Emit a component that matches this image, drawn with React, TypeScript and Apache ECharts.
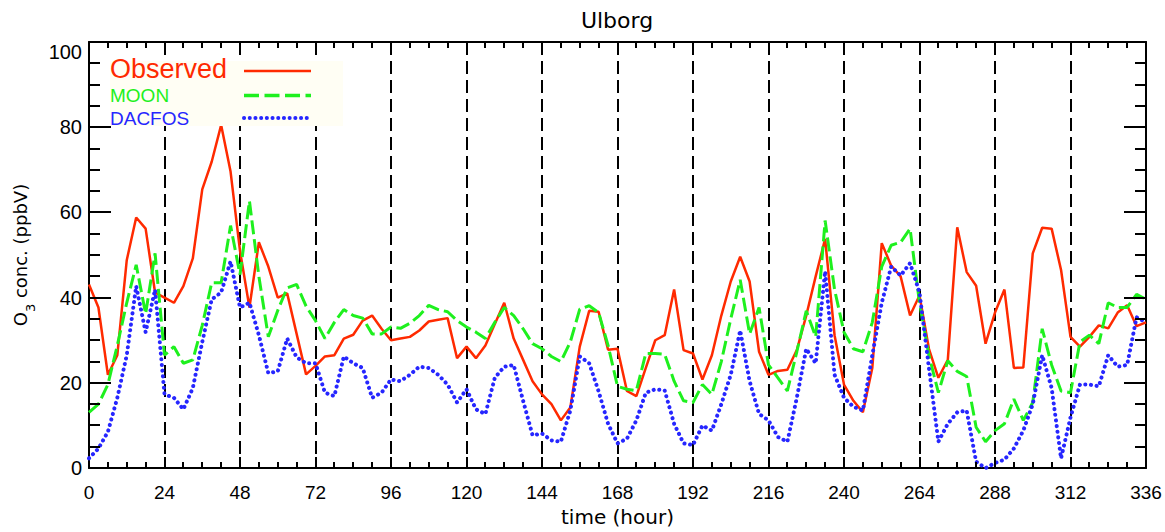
import { useEffect, useRef } from "react";
import * as echarts from "echarts";

// time axis (hours), one value every 3 hours
const HOURS: number[] = Array.from({ length: 113 }, (_, i) => i * 3);

// O3 concentration (ppbV)
const observed: number[] = [
  43.1, 37.7, 21.9, 26.5, 48.8, 58.8, 56.2, 41.2,
  40, 38.8, 42.7, 49.2, 65.4, 71.9, 80.5, 69.6,
  51, 37.7, 53, 47.3, 40, 41, 31.5, 22,
  24, 26.2, 26.5, 30.4, 31.3, 34.6, 35.8, 32.7,
  30, 30.4, 30.8, 32.3, 34.4, 34.8, 35.2, 25.8,
  28.5, 25.8, 28.8, 33.8, 38.8, 30.4, 25.4, 20.4,
  17.3, 15, 11.2, 14.2, 28.5, 36.9, 36.7, 27.8,
  28, 18.1, 16.9, 23.5, 30, 31.2, 41.9, 27.7,
  26.9, 20.8, 26.5, 35.8, 43.8, 49.6, 43.8, 27.3,
  21.9, 22.8, 23.1, 27.7, 35.8, 45, 53.8, 31.2,
  19.6, 15.8, 13.1, 23.5, 52.8, 47.5, 45, 35.8,
  40.5, 28, 21.2, 25.4, 56.5, 46, 42.8, 29.2,
  36.5, 41.9, 23.5, 23.6, 50.4, 56.4, 56.2, 46.5,
  30.8, 28.5, 30.8, 33.5, 32.8, 36.5, 38.2, 33.3,
  34.2,
];

const moon: number[] = [
  13.1, 15, 19.6, 28.8, 38.8, 47.7, 36.2, 50.4,
  26.5, 28.5, 24.6, 25.4, 33.5, 43.5, 43.5, 56.9,
  45.4, 62.7, 45, 30.8, 37, 42.3, 43.1, 38,
  34.6, 30.4, 34.2, 37.2, 35.8, 35.2, 31.5, 31.5,
  33.1, 32.8, 34, 35.8, 38.2, 37.2, 36.7, 34.6,
  33.1, 31.9, 30.4, 34.2, 37.7, 35.8, 32.7, 29.2,
  28, 26.2, 25, 29.6, 37.3, 38.1, 36.5, 28.8,
  19.2, 18.5, 18.2, 26.9, 26.9, 26.7, 20.4, 15.8,
  15.4, 19.6, 17.3, 25, 35, 44.2, 31.5, 37.7,
  24.2, 21.2, 18.1, 27.3, 36.9, 30.8, 58.1, 41.9,
  31.9, 28, 27.3, 34.2, 47.3, 52.3, 53, 56.2,
  38.8, 26.5, 17.7, 25.2, 22.7, 21.5, 9.6, 6.2,
  8.8, 10.4, 16.2, 11.2, 15.4, 32.7, 24.2, 18.1,
  17.7, 29.6, 31.2, 29.2, 38.8, 37.7, 37.7, 40.8,
  39.6,
];

const dacfos: number[] = [
  2.3, 4.6, 8.5, 16.5, 26.5, 42.7, 31.9, 41.9,
  17.3, 16.5, 13.8, 18.8, 29.6, 39.6, 41.2, 48.5,
  37.7, 38.8, 31.2, 22.3, 22.7, 30.4, 26, 24.6,
  24.6, 17.7, 16.9, 26.2, 24.6, 23.5, 16.5, 17.7,
  20.8, 20.4, 21.9, 23.8, 23.5, 21.9, 19.6, 15.4,
  18.5, 13.8, 12.7, 21.2, 23.8, 24.2, 15.8, 7.7,
  8.1, 6.5, 6.2, 13.5, 26.2, 24.6, 18, 10.4,
  5.8, 6.9, 11.2, 17.7, 18.5, 18.2, 10.4, 5.8,
  5.4, 10, 8.8, 15, 21.9, 32.3, 20.4, 12.7,
  11.2, 7.3, 6.2, 16.5, 28, 24.6, 46.2, 21.9,
  16.5, 14.4, 13.5, 26.5, 38.8, 47.3, 45.2, 48.1,
  41.2, 23.5, 6.2, 10.4, 13.1, 13.5, 1.5, 0,
  1.2, 2, 4.6, 8.8, 15, 26.5, 18.8, 2.3,
  11.9, 19.6, 19.6, 19.2, 26.5, 23.8, 24.2, 35.4,
  34.2,
];

const SERIES_NAMES = ["Observed", "MOON", "DACFOS"];
const X_MIN = 0;
const X_MAX = 336;
const X_STEP = 24;
const X_MINOR_STEP = 6;
const Y_MIN = 0;
const Y_MAX = 100;
const Y_STEP = 20;
const Y_MINOR_STEP = 5;

const RED = "#ff2a00";
const GREEN = "#1ef01e";
const BLUE = "#2626ff";
const NUM_FONT = "'Liberation Sans', Arial, Helvetica, sans-serif";
const TXT_FONT = "'DejaVu Sans', Verdana, sans-serif";

export default function App() {
  const ref = useRef<HTMLDivElement>(null);

  useEffect(() => {
    if (!ref.current) return;
    const chart = echarts.init(ref.current, undefined, { renderer: "svg" });

    const axisLine = { show: true, onZero: false, lineStyle: { color: "#000", width: 2 } };

    const legend = {
      id: "legend",
      type: "group",
      children: [
        { type: "rect", z: 100, shape: { x: 110, y: 61, width: 233, height: 65 }, style: { fill: "#fffef4" } },
        {
          type: "text",
          x: 110,
          y: 69,
          z: 101,
          style: { text: SERIES_NAMES[0], fill: RED, fontSize: 27, fontFamily: NUM_FONT, verticalAlign: "middle" },
        },
        {
          type: "text",
          x: 110,
          y: 95.5,
          z: 101,
          style: { text: SERIES_NAMES[1], fill: GREEN, fontSize: 19, fontFamily: NUM_FONT, verticalAlign: "middle" },
        },
        {
          type: "text",
          x: 110,
          y: 118,
          z: 101,
          style: { text: SERIES_NAMES[2], fill: BLUE, fontSize: 19, fontFamily: NUM_FONT, verticalAlign: "middle" },
        },
        { type: "line", z: 101, shape: { x1: 244, y1: 71, x2: 311, y2: 71 }, style: { stroke: RED, lineWidth: 2.5 } },
        {
          type: "line",
          z: 101,
          shape: { x1: 244, y1: 95.5, x2: 311, y2: 95.5 },
          style: { stroke: GREEN, lineWidth: 3.5, lineDash: [15, 5.5] },
        },
        {
          type: "line",
          z: 101,
          shape: { x1: 244, y1: 118, x2: 311, y2: 118 },
          style: { stroke: BLUE, lineWidth: 4, lineDash: [0.1, 5.6], lineCap: "round" },
        },
      ],
    };

    const option: any = {
      animation: false,
      backgroundColor: "#ffffff",
      title: {
        text: "Ulborg",
        left: 617,
        top: 9,
        textAlign: "center",
        padding: 0,
        textStyle: { fontFamily: TXT_FONT, fontSize: 22, fontWeight: "normal", color: "#000" },
      },
      grid: { left: 89, right: 19, top: 42, bottom: 57, containLabel: false },
      xAxis: [
        {
          type: "value",
          min: X_MIN,
          max: X_MAX,
          interval: X_STEP,
          position: "bottom",
          axisLine,
          axisTick: { show: false },
          splitLine: { show: true, lineStyle: { color: "#000", width: 2, type: [13, 6] } },
          axisLabel: { fontFamily: NUM_FONT, fontSize: 19, color: "#000", margin: 15 },
          name: "time (hour)",
          nameLocation: "middle",
          nameGap: 38,
          nameTextStyle: { fontFamily: TXT_FONT, fontSize: 20, color: "#000" },
        },
        {
          type: "value",
          min: X_MIN,
          max: X_MAX,
          interval: X_STEP,
          position: "top",
          axisLine,
          axisTick: { show: false },
          splitLine: { show: false },
          axisLabel: { show: false },
        },
      ],
      yAxis: [
        {
          type: "value",
          min: Y_MIN,
          max: Y_MAX,
          interval: Y_STEP,
          position: "left",
          axisLine,
          axisTick: { show: false },
          splitLine: { show: false },
          axisLabel: {
            fontFamily: NUM_FONT,
            fontSize: 20,
            color: "#000",
            margin: 7,
            verticalAlignMaxLabel: "top",
          },
          name: "{a|O}{b|3}{a| conc. (ppbV)}",
          nameLocation: "middle",
          nameGap: 52,
          nameTextStyle: {
            fontFamily: TXT_FONT,
            fontSize: 18,
            color: "#000",
            rich: {
              a: { fontFamily: TXT_FONT, fontSize: 18, color: "#000" },
              b: { fontFamily: TXT_FONT, fontSize: 13, color: "#000", padding: [20, 0, 0, 0] },
            },
          },
        },
        {
          type: "value",
          min: Y_MIN,
          max: Y_MAX,
          interval: Y_STEP,
          position: "right",
          axisLine,
          axisTick: { show: false },
          splitLine: { show: false },
          axisLabel: { show: false },
        },
      ],
      series: [
        {
          name: SERIES_NAMES[0],
          type: "line",
          data: HOURS.map((h, i) => [h, observed[i]]),
          showSymbol: false,
          symbol: "none",
          lineStyle: { color: RED, width: 2.5 },
          itemStyle: { color: RED },
          z: 3,
        },
        {
          name: SERIES_NAMES[1],
          type: "line",
          data: HOURS.map((h, i) => [h, moon[i]]),
          showSymbol: false,
          symbol: "none",
          lineStyle: { color: GREEN, width: 3, type: [14, 5] },
          itemStyle: { color: GREEN },
          z: 4,
        },
        {
          name: SERIES_NAMES[2],
          type: "line",
          data: HOURS.map((h, i) => [h, dacfos[i]]),
          showSymbol: false,
          symbol: "none",
          lineStyle: { color: BLUE, width: 4, type: [0.1, 5.6], cap: "round" },
          itemStyle: { color: BLUE },
          z: 5,
        },
      ],
      graphic: [legend],
    };

    chart.setOption(option);

    // Frame ticks on all four sides, placed through the grid's own scales.
    const toPx = (xv: number, yv: number): number[] => {
      const p = chart.convertToPixel({ gridIndex: 0 }, [xv, yv]) as number[];
      return [Number(p[0]), Number(p[1])];
    };
    const [left, bottom] = toPx(X_MIN, Y_MIN);
    const [right, top] = toPx(X_MAX, Y_MAX);
    const tickLines: any[] = [];
    for (let v = Y_MIN + Y_MINOR_STEP; v < Y_MAX; v += Y_MINOR_STEP) {
      const len = v % Y_STEP === 0 ? 22 : 11;
      const y = Math.round(toPx(X_MIN, v)[1]);
      tickLines.push({ type: "line", z: 200, shape: { x1: left, y1: y, x2: left + len, y2: y }, style: { stroke: "#000", lineWidth: 2 } });
      tickLines.push({ type: "line", z: 200, shape: { x1: right - len, y1: y, x2: right, y2: y }, style: { stroke: "#000", lineWidth: 2 } });
    }
    for (let v = X_MIN + X_MINOR_STEP; v < X_MAX; v += X_MINOR_STEP) {
      const len = v % X_STEP === 0 ? 11 : 6;
      const x = Math.round(toPx(v, Y_MIN)[0]);
      tickLines.push({ type: "line", z: 200, shape: { x1: x, y1: bottom, x2: x, y2: bottom - len }, style: { stroke: "#000", lineWidth: 2 } });
      tickLines.push({ type: "line", z: 200, shape: { x1: x, y1: top, x2: x, y2: top + len }, style: { stroke: "#000", lineWidth: 2 } });
    }
    chart.setOption({
      graphic: [legend, { id: "frameTicks", type: "group", silent: true, children: tickLines }],
    });

    return () => chart.dispose();
  }, []);

  return (
    <div
      ref={ref}
      style={{ position: "fixed", left: 0, top: 0, width: 1165, height: 532, background: "#fff" }}
    />
  );
}
